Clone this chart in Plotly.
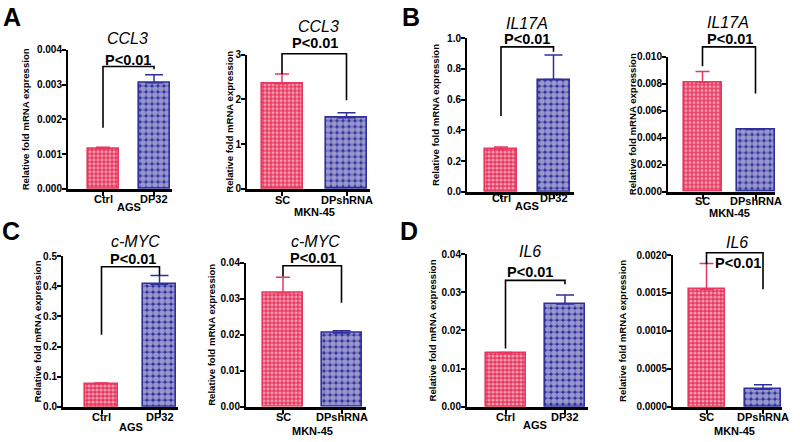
import plotly.graph_objects as go

# ---------------- data ----------------
panel_letters = ["A", "B", "C", "D"]
genes = ["CCL3", "CCL3", "IL17A", "IL17A", "c-MYC", "c-MYC", "IL6", "IL6"]
cell_lines = ["AGS", "MKN-45", "AGS", "MKN-45", "AGS", "MKN-45", "AGS", "MKN-45"]
ags_groups = ["Ctrl", "DP32"]
mkn_groups = ["SC", "DPshRNA"]
control_mean = [0.00116, 2.35, 0.279, 0.0081, 0.077, 0.0317, 0.0140, 0.00155]
control_err = [0.00004, 0.22, 0.012, 0.0008, 0.002, 0.0043, 0.0002, 0.00034]
treated_mean = [0.00305, 1.59, 0.73, 0.0046, 0.406, 0.0205, 0.0269, 0.00023]
treated_err = [0.00023, 0.11, 0.16, 0.00005, 0.029, 0.0006, 0.0024, 0.00006]
y_max = [0.004, 3, 1.0, 0.010, 0.5, 0.04, 0.04, 0.0020]
y_step = [0.001, 1, 0.2, 0.002, 0.1, 0.01, 0.01, 0.0005]
y_format = [".3f", "d", ".1f", ".3f", ".1f", ".2f", ".2f", ".4f"]
p_text = ["P<0.01"] * 8
bracket_top = [0.00352, 3.02, 0.943, 0.01072, 0.4645, 0.0392, 0.0331, 0.00203]
bracket_left_end = [0.00176, 2.57, 0.494, 0.00928, 0.2387, 0.0362, 0.0153, 0.00188]
bracket_right_end = [0.00344, 1.98, 0.911, 0.00727, 0.4355, 0.0289, 0.0321, 0.00155]

# ---------------- layout constants (pixels) ----------------
W, H = 800, 442
# y-axis x, x-axis end, bar0 centre, bar1 centre, bar width, top tick y, x-axis y
geom = [
    (68, 172, 103, 154, 31, 45, 188),
    (247, 370, 282, 346.5, 41, 50, 188),
    (467, 574, 501, 553.5, 32, 33, 191),
    (668, 775, 702.5, 755.5, 38, 52, 191),
    (63, 178, 101.5, 159.5, 33, 257, 412),
    (246, 366, 283, 341.5, 40, 264, 412),
    (467, 588, 505.5, 565, 40, 255, 412),
    (673, 782, 706.5, 763, 36, 256, 412),
]
title_pos = [(127, 33), (318, 21), (527, 18), (728, 17), (135, 242), (315, 242), (530, 252), (737, 243)]
p_pos = [(128, 55), (315, 38), (527, 34), (730, 34), (133, 260), (313, 259), (530, 273), (738, 264)]
ytitle_x = [25, 230, 436, 632, 37, 212, 432, 623]
xtick_y = [198, 199, 197, 200, 422, 422, 422, 422]
xtitle_y = [207, 212, 206, 213, 433, 437, 431, 437]
letter_pos = [(12, 11), (411, 11), (11, 231), (409, 231)]

RED = "#e8375f"
BLUE = "#2f2f9c"
FONT = "Liberation Sans, Arial, sans-serif"

def px_x(x):
    return x / W

def px_y(y):
    return 1 - y / H

fig = go.Figure()
shapes = []
annotations = []

for i in range(8):
    ax0, ax1, c0, c1, bw, top_px, bot_px = geom[i]
    unit = c1 - c0
    r0 = (ax0 - c0) / unit
    r1 = 1 + (ax1 - c1) / unit
    s = "" if i == 0 else str(i + 1)
    cats = ags_groups if cell_lines[i] == "AGS" else mkn_groups
    fig.add_trace(go.Bar(
        x=[0], y=[control_mean[i]], width=bw / unit,
        marker=dict(color=RED, line=dict(color=RED, width=1.6),
                    pattern=dict(shape=".", fgcolor="white", bgcolor=RED, size=4, solidity=0.5)),
        error_y=dict(type="data", symmetric=False, array=[control_err[i]], arrayminus=[0],
                     color=RED, thickness=1.5, width=7),
        xaxis="x" + s, yaxis="y" + s, showlegend=False,
    ))
    fig.add_trace(go.Bar(
        x=[1], y=[treated_mean[i]], width=bw / unit,
        marker=dict(color=BLUE, line=dict(color=BLUE, width=1.6),
                    pattern=dict(shape=".", fgcolor="white", bgcolor=BLUE, size=6, solidity=0.72)),
        error_y=dict(type="data", symmetric=False, array=[treated_err[i]], arrayminus=[0],
                     color=BLUE, thickness=1.5, width=9),
        xaxis="x" + s, yaxis="y" + s, showlegend=False,
    ))
    xa = dict(domain=[px_x(ax0), px_x(ax1)], range=[r0, r1], anchor="y" + s,
              tickmode="array", tickvals=[0, 1], showticklabels=False,
              showline=True, linecolor="black", linewidth=2.5, ticks="outside", layer="above traces",
              ticklen=4, tickwidth=2, tickcolor="black", showgrid=False, zeroline=False)
    ya = dict(domain=[px_y(bot_px), px_y(top_px)], range=[0, y_max[i]], anchor="x" + s,
              tickmode="linear", tick0=0, dtick=y_step[i], tickformat=y_format[i],
              showline=True, linecolor="black", linewidth=2, ticks="outside",
              ticklen=4, tickwidth=2, tickcolor="black", showgrid=False, zeroline=False,
              ticklabelstandoff=-2,
              tickfont=dict(family=FONT, size=10, color="black", weight="bold"))
    fig.update_layout(**{"xaxis" + s: xa, "yaxis" + s: ya})

    # significance bracket in axis-domain coordinates
    def fx(v):
        return (v - r0) / (r1 - r0)
    def fy(v):
        return v / y_max[i]
    path = "M {:.4f},{:.4f} L {:.4f},{:.4f} L {:.4f},{:.4f} L {:.4f},{:.4f}".format(
        fx(0), fy(bracket_left_end[i]), fx(0), fy(bracket_top[i]),
        fx(1), fy(bracket_top[i]), fx(1), fy(bracket_right_end[i]))
    shapes.append(dict(type="path", path=path, xref="x" + s + " domain", yref="y" + s + " domain",
                       line=dict(color="black", width=1.6)))

    for k, cat in enumerate(cats):
        annotations.append(dict(text="<b>" + cat + "</b>", x=k, xref="x" + s,
                                y=px_y(xtick_y[i]), yref="paper",
                                showarrow=False, xanchor="center", yanchor="middle",
                                font=dict(family=FONT, size=11, color="black")))

    tx, ty = title_pos[i]
    annotations.append(dict(text="<i>" + genes[i] + "</i>", x=px_x(tx), y=px_y(ty), xref="paper", yref="paper",
                            showarrow=False, xanchor="center", yanchor="middle",
                            font=dict(family=FONT, size=16, color="black")))
    ppx, ppy = p_pos[i]
    annotations.append(dict(text="<b>" + p_text[i] + "</b>", x=px_x(ppx), y=px_y(ppy), xref="paper", yref="paper",
                            showarrow=False, xanchor="center", yanchor="middle",
                            font=dict(family=FONT, size=14.5, color="black")))
    annotations.append(dict(text="<b>Relative fold mRNA expression</b>", x=px_x(ytitle_x[i]),
                            y=px_y((top_px + bot_px) / 2), xref="paper", yref="paper", textangle=-90,
                            showarrow=False, xanchor="center", yanchor="middle",
                            font=dict(family=FONT, size=9.6, color="black")))
    annotations.append(dict(text="<b>" + cell_lines[i] + "</b>", x=0.5, xref="x" + s,
                            y=px_y(xtitle_y[i]), yref="paper",
                            showarrow=False, xanchor="center", yanchor="middle",
                            font=dict(family=FONT, size=11, color="black")))

for letter, (lx, ly) in zip(panel_letters, letter_pos):
    annotations.append(dict(text="<b>" + letter + "</b>", x=px_x(lx), y=px_y(ly), xref="paper", yref="paper",
                            showarrow=False, xanchor="center", yanchor="middle",
                            font=dict(family=FONT, size=25, color="black")))

fig.update_layout(width=W, height=H, margin=dict(l=0, r=0, t=0, b=0),
                  paper_bgcolor="white", plot_bgcolor="white",
                  shapes=shapes, annotations=annotations, bargap=0)

fig.write_html("out.html", config={"displayModeBar": False},
               post_script="document.body.style.margin='0';document.body.style.overflow='hidden';")
